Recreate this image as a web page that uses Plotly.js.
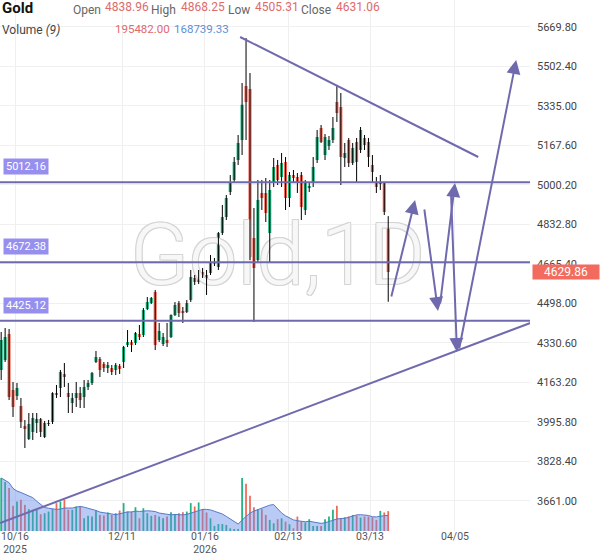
<!DOCTYPE html>
<html><head><meta charset="utf-8">
<script src="https://cdn.plot.ly/plotly-3.0.1.min.js"></script>
<style>html,body{margin:0;padding:0;background:#fff;}#chart{width:600px;height:558px;}</style>
</head><body><div id="chart"></div>
<script>
// ---- data (daily candles, oldest first) ----
const openP = [4216.1,4258.5,4368.7,4131.4,4106.0,4063.6,3978.8,3923.7,3953.4,3991.5,
4008.5,3932.2,3987.3,3995.8,4118.7,4139.9,4199.2,4118.7,4076.3,4097.5,
4118.7,4101.7,4144.1,4161.0,4250.0,4262.8,4241.6,4224.6,4224.6,4216.1,
4233.1,4250.0,4322.1,4334.8,4330.6,4368.7,4364.5,4474.7,4500.1,4546.7,
4343.3,4326.3,4343.3,4356.0,4449.2,4500.1,4466.2,4461.9,4512.8,4606.0,
4589.1,4631.5,4618.7,4627.2,4668.0,4652.7,4796.7,4864.6,4970.5,5021.4,
5106.1,5190.9,5420.0,5407.1,4775.6,4682.3,4966.3,4966.3,4796.7,5008.7,
5084.9,5034.1,5097.6,4945.1,5042.5,5034.1,5042.5,4894.2,4987.5,5008.7,
5106.1,5241.8,5127.3,5165.5,5190.9,5351.9,5330.8,5114.6,5190.9,5093.4,
5182.4,5148.5,5199.4,5182.4,5084.9,5012.9,5004.4,5008.7,4838.96];
const highP = [4377.2,4394.1,4389.9,4165.3,4161.0,4097.5,4004.3,4033.9,4033.9,4033.9,
4012.7,4000.0,4004.3,4122.0,4152.6,4216.1,4245.8,4161.0,4118.7,4165.3,
4144.1,4173.8,4173.8,4207.7,4296.7,4271.2,4250.0,4250.0,4237.3,4245.8,
4241.6,4318.0,4385.7,4343.3,4377.2,4406.8,4478.9,4525.5,4525.5,4555.2,
4415.3,4372.9,4415.3,4452.0,4504.3,4508.6,4483.1,4512.8,4639.9,4618.7,
4639.9,4648.4,4639.9,4703.5,4690.8,4801.0,4915.4,4957.8,5042.5,5118.8,
5212.1,5432.5,5623.2,5474.8,4902.7,5021.4,5021.4,5029.8,5021.4,5114.6,
5106.1,5135.8,5118.8,5055.3,5063.7,5051.0,5055.3,5021.4,5012.9,5118.8,
5233.3,5254.5,5216.3,5207.9,5288.4,5424.0,5390.1,5178.2,5199.4,5178.2,
5199.4,5246.0,5212.1,5199.4,5127.3,5034.1,5042.5,5012.9,4868.25];
const lowP = [4173.8,4250.0,4089.0,4017.0,4089.0,3970.3,3885.6,3919.5,3919.5,3949.1,
3932.2,3928.0,3978.8,3987.3,4097.5,4101.7,4144.1,4033.9,4033.9,4059.3,
4055.1,4055.1,4131.4,4152.6,4245.8,4186.5,4207.7,4203.4,4194.9,4194.9,
4199.2,4224.6,4313.6,4292.4,4322.1,4343.3,4356.0,4470.4,4495.8,4300.9,
4334.8,4317.9,4313.6,4351.8,4445.0,4440.8,4415.3,4457.7,4504.3,4576.4,
4580.6,4606.0,4534.0,4618.7,4656.9,4639.9,4788.3,4851.8,4957.8,5008.7,
5084.9,5127.3,5190.9,4682.3,4419.6,4673.8,4894.2,4843.4,4669.6,4991.7,
5000.2,4991.7,4894.2,4906.9,5008.7,4966.3,4851.8,4873.0,4970.5,4991.7,
5093.4,5178.2,5106.1,5148.5,5178.2,5267.2,5000.2,5076.5,5076.5,5084.9,
5012.9,5135.8,5148.5,5076.5,5012.9,4966.3,4979.0,4873.0,4505.31];
const closeP = [4343.3,4356.0,4101.7,4059.3,4139.9,3995.8,3966.1,3987.3,4012.7,4008.5,
3953.4,3991.5,3991.5,4118.7,4110.2,4207.7,4186.5,4101.7,4097.5,4118.7,
4089.0,4144.1,4161.0,4203.4,4271.2,4216.1,4224.6,4237.3,4207.7,4237.3,
4220.4,4313.6,4334.8,4322.1,4372.9,4356.0,4470.4,4504.3,4521.3,4322.1,
4381.4,4356.0,4330.6,4449.2,4491.6,4457.7,4457.7,4500.1,4610.3,4589.1,
4631.5,4614.5,4584.8,4673.8,4674.0,4796.7,4864.6,4945.1,5008.7,5097.6,
5178.2,5340.0,5351.9,4695.0,4648.4,4936.6,4945.1,4881.5,4979.0,5076.5,
5021.4,5093.4,4945.1,5042.5,5029.8,5008.7,4906.9,5008.7,4995.9,5076.5,
5203.6,5182.4,5203.6,5190.9,5241.8,5305.3,5118.8,5135.8,5093.4,5157.0,
5097.6,5233.3,5169.7,5118.8,5055.3,4991.7,5008.7,4885.7,4631.06];
const volume = [521000,482000,422000,248000,290000,307000,257000,215000,208000,208000,
165000,175000,191000,215000,274000,290000,307000,208000,208000,241000,
241000,125000,149000,142000,201000,158000,152000,182000,158000,175000,
201000,274000,191000,191000,234000,125000,224000,175000,149000,158000,
142000,125000,142000,185000,165000,175000,185000,191000,274000,241000,
281000,215000,182000,125000,50000,69000,69000,59000,26000,20000,
20000,521000,465000,347000,234000,215000,215000,158000,109000,76000,
116000,125000,92000,66000,26000,142000,92000,83000,116000,50000,
50000,50000,116000,142000,208000,248000,125000,135000,142000,158000,
152000,132000,142000,142000,135000,109000,198000,182000,195482];
const maPeriod = 9;

// x-axis tick labels (bar index positions)
const tickIdx = [3.5, 30.6, 51.6, 72.7, 93.4, 114.9];
const tickText = ['10/16<br>2025','12/11','01/16<br>2026','02/13','03/13','04/05'];

// drawn levels and analysis lines
const levels = [5012.16, 4672.38, 4425.12];
const trendDown = {x:[60.5,120.8], y:[5627.4,5118.8]};
const trendUp = {x:[-0.3,134.0], y:[3567.7,4415.3]};
const arrowTail = [[98.7,4521.3],[107.1,4902.7],[111.1,4491.6],[113.9,4966.3],[115.9,4300.9]];
const arrowTip  = [[104.8,4936.6],[110.6,4466.2],[114.9,5008.7],[115.4,4292.4],[130.4,5529.9]];
const lastPrice = 4629.86;
const header = {open:'4838.96', high:'4868.25', low:'4505.31', close:'4631.06', vol:'195482.00', volMa:'168739.33'};

// ---- build ----
const N = closeP.length;
const idx = closeP.map((_, i) => i);
const GREEN = '#1fb481', RED = '#f06a5a', LINE = '#6f6aae';

const wx = [], wy = [];
for (let i = 0; i < N; i++) { wx.push(i, i, null); wy.push(lowP[i], highP[i], null); }
const ma = volume.map((_, i) => {
  const s = Math.max(0, i - maPeriod + 1);
  const seg = volume.slice(s, i + 1);
  return seg.reduce((a, b) => a + b, 0) / seg.length;
});
const volColors = idx.map(i => closeP[i] >= openP[i] ? GREEN : RED);

const traces = [
  {type:'scatter', mode:'text', x:[70.0], y:[4670], text:['Gold,1D'], textposition:'middle center',
   textfont:{family:'Roboto', size:86, color:'#f7f7f7', weight:300,
     shadow:'-1px -1px 0 #d4d4d4, 1px -1px 0 #d4d4d4, -1px 1px 0 #d4d4d4, 1px 1px 0 #d4d4d4'},
   hoverinfo:'skip', showlegend:false},
  {type:'scatter', mode:'lines', x:wx, y:wy, line:{color:'#000', width:1}, hoverinfo:'skip', showlegend:false},
  {type:'candlestick', x:idx, open:openP, high:highP, low:lowP, close:closeP,
   increasing:{line:{color:GREEN, width:0}, fillcolor:GREEN},
   decreasing:{line:{color:RED, width:0}, fillcolor:RED},
   whiskerwidth:0, showlegend:false, hoverinfo:'skip'},
  {type:'bar', x:idx, y:volume, yaxis:'y2', width:0.45, marker:{color:volColors, line:{width:0}}, showlegend:false, hoverinfo:'skip'},
  {type:'scatter', mode:'lines', x:idx, y:ma, yaxis:'y2', fill:'tozeroy',
   fillcolor:'rgba(100,140,232,0.45)', line:{color:'#5578c8', width:1}, showlegend:false, hoverinfo:'skip'}
];

const W = 530, H = 531; // plot area in px
const shapes = [];
levels.forEach(v => shapes.push({type:'line', xref:'paper', yref:'y', x0:0, x1:1, y0:v, y1:v, line:{color:LINE, width:2}}));
[trendDown, trendUp].forEach(t => shapes.push({type:'line', xref:'x', yref:'y', x0:t.x[0], x1:t.x[1], y0:t.y[0], y1:t.y[1], line:{color:LINE, width:2}}));

const ann = [];
function txt(text, px, py, size, color, opts) {
  ann.push(Object.assign({text:text, xref:'paper', yref:'paper', x:px / W, y:1 - py / H,
    xanchor:'left', yanchor:'middle', showarrow:false,
    font:{family:'Roboto', size:size, color:color}}, opts || {}));
}
const LBL = '#666', VAL = '#e06a6a';
txt('<b>Gold</b>', 0, 8, 15, '#111');
txt('Open', 71, 10, 12, LBL); txt(header.open, 103, 7, 12, VAL);
txt('High', 149, 10, 12, LBL); txt(header.high, 179, 7, 12, VAL);
txt('Low', 226, 10, 12, LBL); txt(header.low, 253, 7, 12, VAL);
txt('Close', 299, 10, 12, LBL); txt(header.close, 334, 7, 12, VAL);
txt('Volume <i>(9)</i>', 0, 30, 12, '#444');
txt(header.vol, 113, 29, 11.5, VAL); txt(header.volMa, 172, 29, 11.5, '#5b8fd6');

levels.forEach(v => ann.push({text:v.toFixed(2), xref:'paper', yref:'y', x:3 / W, y:v, xanchor:'left', yanchor:'bottom',
  yshift:7, showarrow:false, bgcolor:'#978ff0', borderpad:1, width:42, height:13,
  font:{family:'Roboto', size:11, color:'#fff'}}));

arrowTail.forEach((t, k) => ann.push({text:'', x:arrowTip[k][0], y:arrowTip[k][1], xref:'x', yref:'y',
  ax:t[0], ay:t[1], axref:'x', ayref:'y', showarrow:true, arrowhead:2, arrowsize:1.4, arrowwidth:2,
  arrowcolor:LINE, standoff:0}));

ann.push({text:lastPrice.toFixed(2), xref:'paper', yref:'y', x:1, y:lastPrice, xanchor:'left', yanchor:'middle',
  xshift:2, showarrow:false, bgcolor:'#f26b5e', borderpad:1, width:64, height:12,
  font:{family:'Roboto', size:12, color:'#fff'}});

const layout = {
  width:600, height:558, margin:{l:0, r:70, t:0, b:27},
  paper_bgcolor:'#fff', plot_bgcolor:'#fff', showlegend:false, dragmode:false,
  boxgap:0.12, boxgroupgap:0.1,
  font:{family:'Roboto', color:'#444'},
  xaxis:{range:[-0.3, 133.9], tickmode:'array', tickvals:tickIdx, ticktext:tickText,
    showgrid:true, gridcolor:'#efefef', zeroline:false, showline:false, ticks:'',
    ticklabelstandoff:-3,
    tickfont:{family:'Roboto', size:10.5, color:'#555'}, rangeslider:{visible:false}, fixedrange:true},
  yaxis:{range:[3533.8, 5784.2], side:'right', tick0:3661, dtick:167.4, tickformat:'.2f',
    showgrid:true, gridcolor:'#f0f0f0', zeroline:false, showline:false, ticks:'',
    ticklabelstandoff:6, tickfont:{family:'Roboto', size:11, color:'#444'}, fixedrange:true},
  yaxis2:{overlaying:'y', range:[0, 5.22e6], visible:false, fixedrange:true},
  shapes:shapes, annotations:ann
};
Plotly.newPlot('chart', traces, layout, {displayModeBar:false, staticPlot:true});
</script></body></html>
